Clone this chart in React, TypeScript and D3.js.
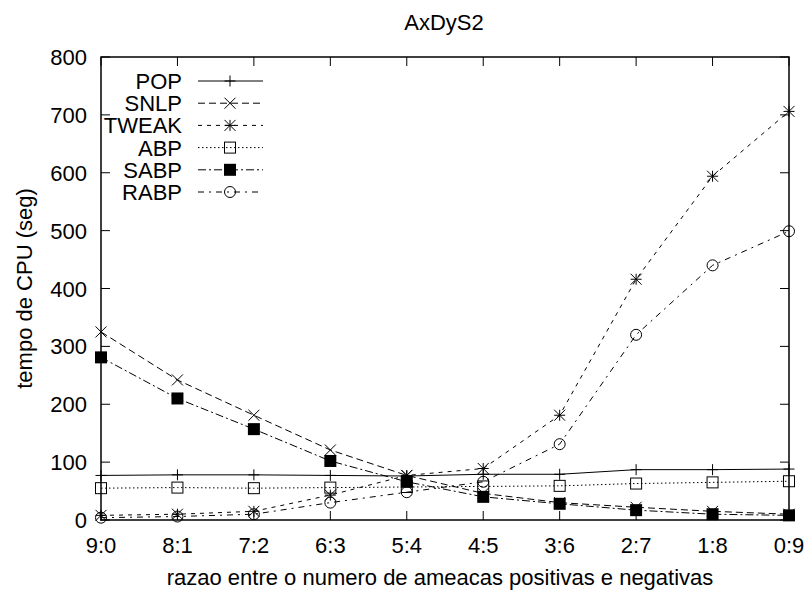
import React from "react";
import * as d3 from "d3";

const categories = ["9:0", "8:1", "7:2", "6:3", "5:4", "4:5", "3:6", "2:7", "1:8", "0:9"];
const yTicks = [0, 100, 200, 300, 400, 500, 600, 700, 800];
const popValues = [77, 78, 78, 77, 76, 79, 79, 87, 87, 88];
const snlpValues = [325, 242, 181, 121, 77, 46, 30, 22, 15, 10];
const tweakValues = [8, 10, 15, 43, 77, 89, 181, 416, 594, 706];
const abpValues = [55, 56, 55, 56, 57, 58, 59, 63, 65, 67];
const sabpValues = [281, 210, 157, 102, 66, 40, 28, 17, 10, 8];
const rabpValues = [4, 6, 10, 30, 48, 66, 131, 320, 440, 499];

const seriesNames = ["POP", "SNLP", "TWEAK", "ABP", "SABP", "RABP"];
const seriesData = [popValues, snlpValues, tweakValues, abpValues, sabpValues, rabpValues];
const dashes = ["", "7,4", "4,5", "1.5,2.5", "8,3,2,3", "6,5,2,5"];
const markerTypes = ["plus", "cross", "star", "square", "fsquare", "circle"];

const W = 806, H = 590;
const L = 101, R = 789, T = 57, B = 520;
const font = "'Liberation Sans', Arial, Helvetica, sans-serif";

function Marker({ type, x, y }: { type: string; x: number; y: number }) {
  const s = 5.5;
  const st = { stroke: "#000", strokeWidth: 1, fill: "none" } as any;
  if (type === "plus")
    return <path d={`M${x - s},${y}H${x + s}M${x},${y - s}V${y + s}`} {...st} />;
  if (type === "cross")
    return <path d={`M${x - s},${y - s}L${x + s},${y + s}M${x - s},${y + s}L${x + s},${y - s}`} {...st} />;
  if (type === "star")
    return (
      <path
        d={`M${x - s},${y - s}L${x + s},${y + s}M${x - s},${y + s}L${x + s},${y - s}M${x - s},${y}H${x + s}M${x},${y - s}V${y + s}`}
        {...st}
      />
    );
  if (type === "square") return <rect x={x - 5.5} y={y - 5.5} width={11} height={11} {...st} />;
  if (type === "fsquare") return <rect x={x - 6} y={y - 6} width={12} height={12} fill="#000" />;
  return <circle cx={x} cy={y} r={5.5} {...st} />;
}

export default function App() {
  const x = d3.scalePoint<string>().domain(categories).range([L, R]);
  const y = d3.scaleLinear().domain([0, 800]).range([B, T]);
  const line = d3
    .line<number>()
    .x((_, i) => x(categories[i]) as number)
    .y((d) => y(d));
  const tick = 9;
  return (
    <svg width={W} height={H} style={{ position: "absolute", left: 0, top: 0, background: "#fff" }}>
      <rect width={W} height={H} fill="#fff" />
      <g fontFamily={font} fontSize={22} fill="#000">
        <text x={444} y={30} textAnchor="middle">AxDyS2</text>
        {yTicks.map((t) => (
          <g key={t}>
            <line x1={L} x2={L + tick} y1={y(t)} y2={y(t)} stroke="#000" strokeWidth={1} />
            <line x1={R} x2={R - tick} y1={y(t)} y2={y(t)} stroke="#000" strokeWidth={1} />
            <text x={87} y={y(t) + 8} textAnchor="end">{t}</text>
          </g>
        ))}
        {categories.map((c) => (
          <g key={c}>
            <line x1={x(c)} x2={x(c)} y1={B} y2={B - tick} stroke="#000" strokeWidth={1} />
            <line x1={x(c)} x2={x(c)} y1={T} y2={T + tick} stroke="#000" strokeWidth={1} />
            <text x={x(c)} y={B + 33} textAnchor="middle">{c}</text>
          </g>
        ))}
        <text x={440} y={585} textAnchor="middle">razao entre o numero de ameacas positivas e negativas</text>
        <text transform={`translate(32,${(T + B) / 2}) rotate(-90)`} textAnchor="middle">tempo de CPU (seg)</text>
        {seriesData.map((vals, si) => (
          <g key={seriesNames[si]}>
            <path d={line(vals) || ""} fill="none" stroke="#000" strokeWidth={1} strokeDasharray={dashes[si]} />
            {vals.map((v, i) => (
              <Marker key={i} type={markerTypes[si]} x={x(categories[i]) as number} y={y(v)} />
            ))}
          </g>
        ))}
        {seriesNames.map((n, si) => {
          const ly = 81 + si * 22.2;
          return (
            <g key={n}>
              <text x={182} y={ly + 8} textAnchor="end">{n}</text>
              <line x1={198} x2={263} y1={ly} y2={ly} stroke="#000" strokeWidth={1} strokeDasharray={dashes[si]} />
              <Marker type={markerTypes[si]} x={230} y={ly} />
            </g>
          );
        })}
        <rect x={L} y={T} width={R - L} height={B - T} fill="none" stroke="#000" strokeWidth={1.5} />
      </g>
    </svg>
  );
}
